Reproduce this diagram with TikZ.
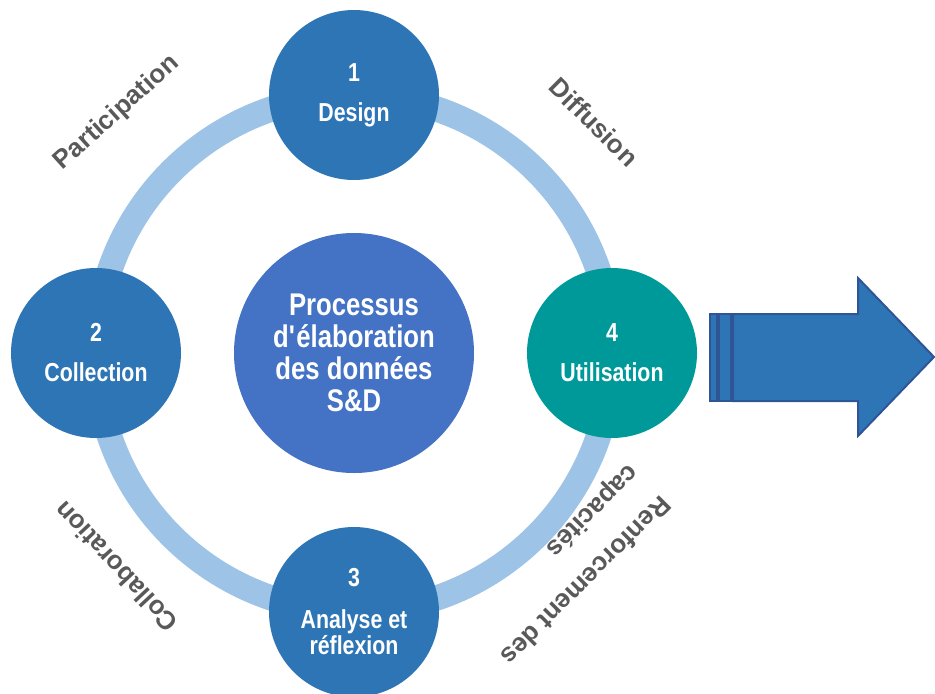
\documentclass[tikz,border=0pt]{standalone}
\usepackage{fontspec}
\setmainfont{Liberation Sans}[FakeStretch=0.82]
\newfontfamily\themefont{Liberation Sans}
\usetikzlibrary{positioning}

\definecolor{stageblue}{RGB}{46,117,182}
\definecolor{hubblue}{RGB}{68,114,196}
\definecolor{stageteal}{RGB}{0,153,153}
\definecolor{ringblue}{RGB}{157,195,230}
\definecolor{themegray}{RGB}{89,89,89}
\definecolor{arrowline}{RGB}{47,85,151}

\begin{document}
\begin{tikzpicture}
		[x=0.75pt,y=-0.75pt,
		stage/.style={circle,fill=stageblue,text=white,minimum size=127.5pt,inner sep=0pt,align=center,font=\bfseries\fontsize{19.5}{19.5}\selectfont},
		hub/.style={circle,fill=hubblue,text=white,minimum size=180pt,inner sep=0pt,align=center,font=\bfseries\fontsize{23.5}{24}\selectfont},
		theme/.style={text=themegray,align=left,font=\themefont\bfseries\fontsize{19.5}{33}\selectfont},
		bigarrow/.style={fill=stageblue,draw=arrowline,line width=1.5pt,line join=miter}]
		\useasboundingbox (0,0) rectangle (935,693);
		\coordinate (c) at (354,353.5);
		\draw[ringblue,line width=19pt] (c) circle[radius=258];
		
		\node[hub] (hub) at (354,353) {Processus\\d\textquotesingle élaboration\\des données\\S\&D};
		\node[stage] (design) at (354,95) {1\\[10.5pt]Design};
		\node[stage] (collect) at (96,353) {2\\[10.5pt]Collection};
		\node[stage] (analyse) at (354,612) {3\\[12pt]Analyse et\\réflexion};
		\node[stage,fill=stageteal] (usage) at (612,353) {4\\[10.5pt]Utilisation};
		
		\node[theme,rotate=42] (particip) at (117,113) {Participation};
		\node[theme,rotate=-45] (diffus) at (594,122) {Diffusion};
		\node[theme,rotate=133] (collab) at (116,567) {Collaboration};
		\node[theme,rotate=225] (renfo) at (569,564) {Renforcement des\\capacités};
		
		\draw[bigarrow] (733,314) -- (858,314) -- (858,278) -- (934,357) -- (858,436) -- (858,401) -- (733,401) -- cycle;
		\foreach \from/\to in {710/717, 719/731}
		\draw[bigarrow] (\from,314) rectangle (\to,401);
		\end{tikzpicture}
\end{document}
